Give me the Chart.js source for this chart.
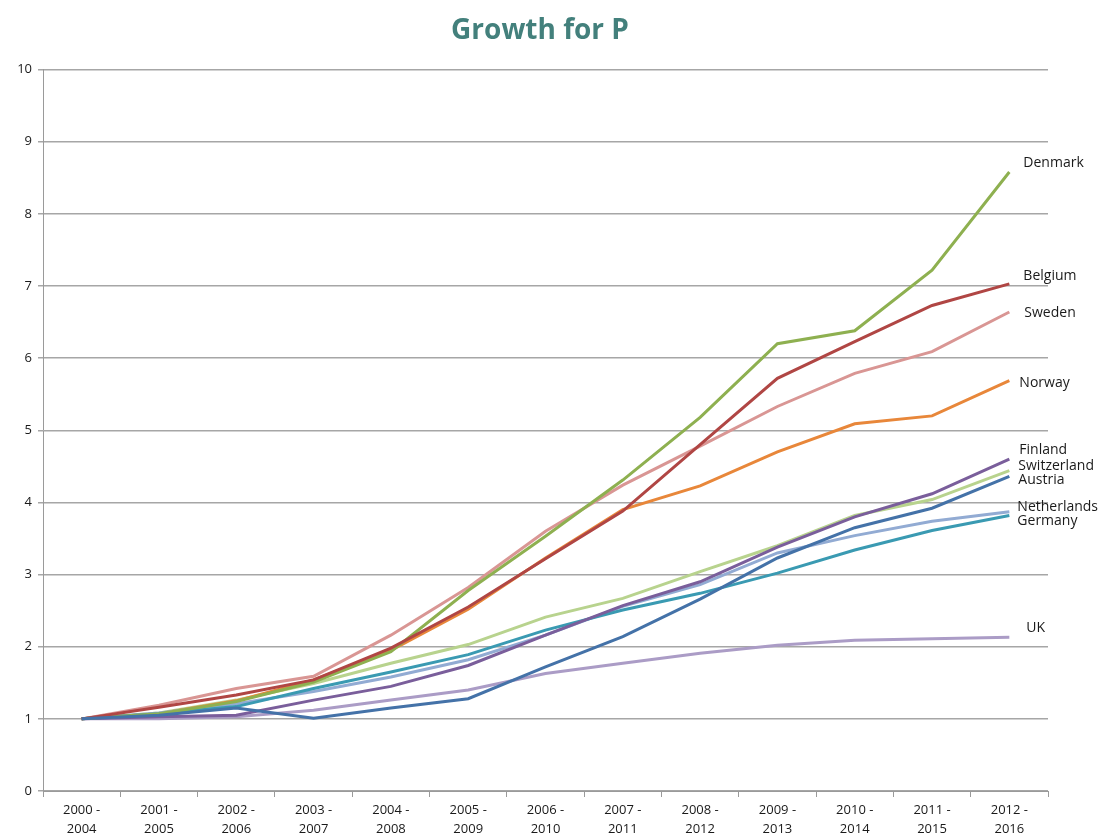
<!DOCTYPE html>
<html>
<head>
<meta charset="utf-8">
<script src="https://cdn.jsdelivr.net/npm/chart.js@4/dist/chart.umd.min.js"></script>
<style>
  html, body { margin: 0; padding: 0; background: #ffffff; }
  #wrap { width: 1106px; height: 839px; }
</style>
</head>
<body>
<div id="wrap"><canvas id="c" width="1106" height="839"></canvas></div>
<script>
const categories = [
  ["2000 -", "2004"], ["2001 -", "2005"], ["2002 -", "2006"], ["2003 -", "2007"],
  ["2004 -", "2008"], ["2005 -", "2009"], ["2006 -", "2010"], ["2007 -", "2011"],
  ["2008 -", "2012"], ["2009 -", "2013"], ["2010 -", "2014"], ["2011 -", "2015"],
  ["2012 -", "2016"]
];
const countries = ["Austria", "Belgium", "Denmark", "Finland", "Germany", "Netherlands", "Norway", "Sweden", "Switzerland", "UK"];
const austria     = [1, 1.05, 1.15, 1.01, 1.15, 1.28, 1.72, 2.14, 2.66, 3.23, 3.65, 3.92, 4.36];
const belgium     = [1, 1.16, 1.33, 1.54, 1.98, 2.55, 3.22, 3.88, 4.80, 5.72, 6.23, 6.73, 7.03];
const denmark     = [1, 1.07, 1.24, 1.51, 1.93, 2.78, 3.53, 4.31, 5.18, 6.20, 6.38, 7.22, 8.58];
const finland     = [1, 1.03, 1.05, 1.26, 1.45, 1.74, 2.16, 2.57, 2.90, 3.38, 3.80, 4.12, 4.60];
const germany     = [1, 1.07, 1.17, 1.42, 1.65, 1.89, 2.23, 2.51, 2.74, 3.02, 3.34, 3.61, 3.82];
const netherlands = [1, 1.08, 1.21, 1.38, 1.58, 1.82, 2.16, 2.56, 2.86, 3.30, 3.54, 3.74, 3.87];
const norway      = [1, 1.07, 1.25, 1.54, 1.95, 2.52, 3.23, 3.90, 4.23, 4.70, 5.09, 5.20, 5.69];
const sweden      = [1, 1.19, 1.42, 1.59, 2.16, 2.82, 3.60, 4.24, 4.78, 5.33, 5.79, 6.09, 6.64];
const switzerland = [1, 1.08, 1.26, 1.49, 1.77, 2.03, 2.41, 2.67, 3.04, 3.40, 3.82, 4.04, 4.44];
const uk          = [1, 1.00, 1.03, 1.12, 1.26, 1.40, 1.63, 1.77, 1.91, 2.02, 2.09, 2.11, 2.13];
const yTicks = [0, 1, 2, 3, 4, 5, 6, 7, 8, 9, 10];

const seriesValues = [austria, belgium, denmark, finland, germany, netherlands, norway, sweden, switzerland, uk];
const colors = ["#4472A8", "#B04644", "#8EB050", "#7A5E9B", "#3A9AB2", "#92ABD3", "#E8873A", "#D99694", "#B8D38E", "#AB9CC6"];
// label pixel offsets (dx, dy) relative to last point
const labelOffsets = {
  Austria: [9, 4], Belgium: [14, -8], Denmark: [14, -9], Finland: [10, -9], Germany: [8, 6],
  Netherlands: [8, -5], Norway: [10, 2], Sweden: [15, 1], Switzerland: [9, -5], UK: [17, -9]
};

const endLabels = {
  id: 'endLabels',
  afterDatasetsDraw(chart) {
    const ctx = chart.ctx;
    ctx.save();
    ctx.font = '14px "Open Sans", sans-serif';
    ctx.fillStyle = '#1a1a1a';
    ctx.textBaseline = 'middle';
    ctx.textAlign = 'left';
    chart.data.datasets.forEach((ds, i) => {
      const meta = chart.getDatasetMeta(i);
      const pt = meta.data[meta.data.length - 1];
      const off = labelOffsets[ds.label] || [10, 0];
      ctx.fillText(ds.label, pt.x + off[0], pt.y + off[1]);
    });
    ctx.restore();
  }
};

new Chart(document.getElementById('c'), {
  type: 'line',
  data: {
    labels: categories,
    datasets: countries.map((name, i) => ({
      label: name,
      data: seriesValues[i],
      borderColor: colors[i],
      backgroundColor: colors[i],
      borderWidth: 3,
      pointRadius: 0,
      tension: 0,
      fill: false
    }))
  },
  options: {
    responsive: false,
    animation: false,
    devicePixelRatio: 1,
    layout: { padding: { left: 0, right: 26, top: 0, bottom: 0 } },
    plugins: {
      legend: { display: false },
      tooltip: { enabled: false },
      title: {
        display: true,
        text: 'Growth for P',
        color: '#43807C',
        font: { family: '"Open Sans", sans-serif', size: 28, weight: 'bold' },
        padding: { top: 14, bottom: 22 }
      }
    },
    scales: {
      x: {
        type: 'category',
        offset: true,
        grid: { display: true, drawOnChartArea: false, drawTicks: true, tickLength: 6, offset: true, color: '#9a9a9a' },
        border: { display: true, color: '#9a9a9a', width: 1 },
        ticks: {
          color: '#1a1a1a',
          font: { family: '"Open Sans", sans-serif', size: 13, lineHeight: 1.45 },
          maxRotation: 0, autoSkip: false, padding: 4
        },
        afterFit(scale) { scale.height = 48; }
      },
      y: {
        min: 0, max: 10,
        afterBuildTicks(scale) { scale.ticks = yTicks.map(v => ({ value: v })); },
        grid: { color: '#a6a6a6', lineWidth: 1.5, drawTicks: true, tickLength: 5 },
        border: { display: true, color: '#9a9a9a', width: 1 },
        ticks: {
          color: '#1a1a1a',
          font: { family: '"Open Sans", sans-serif', size: 13 },
          padding: 6
        },
        afterFit(scale) { scale.width = 43; }
      },
      yr: {
        position: 'right',
        min: 0, max: 10,
        grid: { display: false, drawTicks: false },
        border: { display: false },
        ticks: { display: false },
        afterFit(scale) { scale.width = 32; }
      }
    }
  },
  plugins: [endLabels]
});
</script>
</body>
</html>
